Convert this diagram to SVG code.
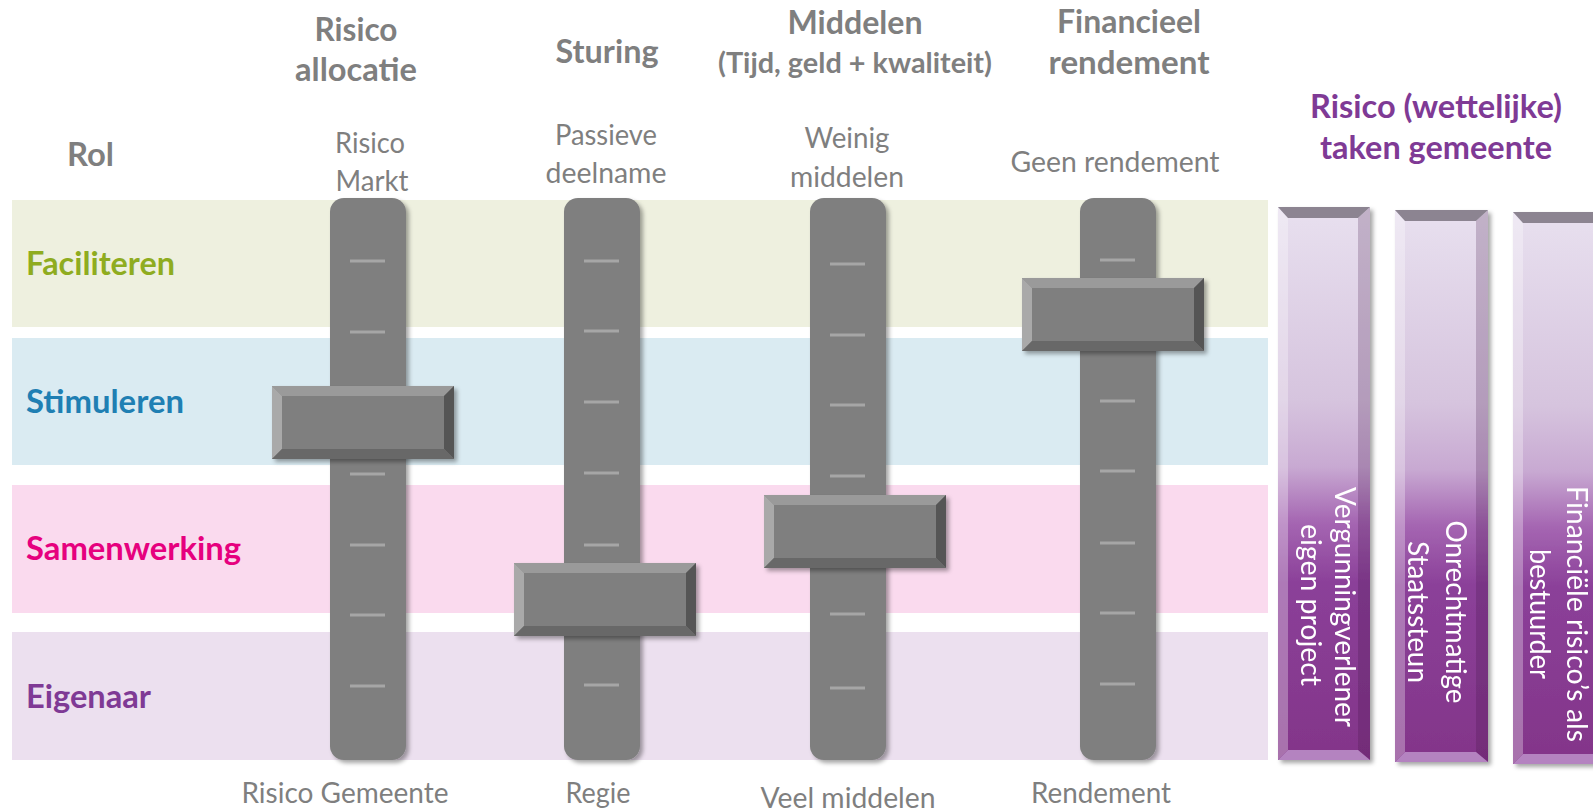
<svg xmlns="http://www.w3.org/2000/svg" xmlns:xlink="http://www.w3.org/1999/xlink" width="1593" height="811" viewBox="0 0 1593 811">
<style>
text{font-family:Lato,"Liberation Sans",sans-serif}
.hd{font-weight:700;font-size:33px;fill:#7f7f7f;text-anchor:middle}
.hs{font-weight:700;font-size:28px;fill:#7f7f7f;text-anchor:middle}
.pu{font-weight:700;font-size:33px;fill:#7f3a95;text-anchor:middle}
.rl{font-weight:700;font-size:33px}
.sb{font-size:28px;fill:#7f7f7f;text-anchor:middle}
.bt{font-size:28px;fill:#ffffff;text-anchor:middle}
.tick{fill:#a6a6a6}
.track{fill:#7f7f7f}
</style>
<defs>
<filter id="sh" x="-20%" y="-20%" width="140%" height="140%">
<feDropShadow dx="3" dy="3" stdDeviation="2" flood-color="#000" flood-opacity="0.35"/>
</filter>
<linearGradient id="pg" x1="0" y1="0" x2="0" y2="1">
<stop offset="0" stop-color="#e8e0ef"/>
<stop offset="0.35" stop-color="#d6c4de"/>
<stop offset="0.47" stop-color="#c8a9d2"/>
<stop offset="0.57" stop-color="#a566b2"/>
<stop offset="0.68" stop-color="#8b4099"/>
<stop offset="1" stop-color="#833589"/>
</linearGradient>
<rect id="trk" class="track" x="0" y="0" width="76" height="562" rx="14" ry="14"/>
<rect id="tk" class="tick" x="0" y="-1.5" width="35" height="3"/>
<g id="knob">
<rect x="0" y="0" width="182" height="73" fill="#7f7f7f"/>
<polygon points="0,0 182,0 172,10 10,10" fill="#9a9a9a"/>
<polygon points="0,0 10,10 10,63 0,73" fill="#a9a9a9"/>
<polygon points="182,0 182,73 172,63 172,10" fill="#555555"/>
<polygon points="0,73 10,63 172,63 182,73" fill="#676767"/>
</g>
</defs>

<rect width="1593" height="811" fill="#ffffff"/>

<g id="band-faciliteren">
<rect x="12" y="200" width="1256" height="127" fill="#eef0df"/>
<text class="rl" x="26" y="275" fill="#8fac1f" textLength="149" lengthAdjust="spacingAndGlyphs">Faciliteren</text>
</g>
<g id="band-stimuleren">
<rect x="12" y="338" width="1256" height="127" fill="#daebf2"/>
<text class="rl" x="26" y="413" fill="#1f7fb3" textLength="158" lengthAdjust="spacingAndGlyphs">Stimuleren</text>
</g>
<g id="band-samenwerking">
<rect x="12" y="485" width="1256" height="128" fill="#fadaee"/>
<text class="rl" x="26" y="560" fill="#e6007e" textLength="215" lengthAdjust="spacingAndGlyphs">Samenwerking</text>
</g>
<g id="band-eigenaar">
<rect x="12" y="632" width="1256" height="128" fill="#ece0ef"/>
<text class="rl" x="26" y="708" fill="#7f3a95" textLength="125" lengthAdjust="spacingAndGlyphs">Eigenaar</text>
</g>

<g id="label-rol">
<text class="rl" x="67" y="166" fill="#7f7f7f" textLength="47" lengthAdjust="spacingAndGlyphs">Rol</text>
</g>

<g id="slider-risico">
<text class="hd" x="356" y="41" textLength="83" lengthAdjust="spacingAndGlyphs">Risico</text>
<text class="hd" x="356" y="81" textLength="122" lengthAdjust="spacingAndGlyphs">allocatie</text>
<text class="sb" x="370" y="153" textLength="70" lengthAdjust="spacingAndGlyphs">Risico</text>
<text class="sb" x="372" y="191" textLength="73" lengthAdjust="spacingAndGlyphs">Markt</text>
<use xlink:href="#trk" x="330" y="198" filter="url(#sh)"/>
<use xlink:href="#tk" x="350" y="261"/><use xlink:href="#tk" x="350" y="332"/><use xlink:href="#tk" x="350" y="403"/><use xlink:href="#tk" x="350" y="474"/><use xlink:href="#tk" x="350" y="545"/><use xlink:href="#tk" x="350" y="615"/><use xlink:href="#tk" x="350" y="686"/>
<use xlink:href="#knob" x="272" y="386" filter="url(#sh)"/>
<text class="sb" x="345" y="803" textLength="207" lengthAdjust="spacingAndGlyphs">Risico Gemeente</text>
</g>

<g id="slider-sturing">
<text class="hd" x="607" y="63" textLength="103" lengthAdjust="spacingAndGlyphs">Sturing</text>
<text class="sb" x="606" y="145" textLength="102" lengthAdjust="spacingAndGlyphs">Passieve</text>
<text class="sb" x="606" y="183" textLength="121" lengthAdjust="spacingAndGlyphs">deelname</text>
<use xlink:href="#trk" x="564" y="198" filter="url(#sh)"/>
<use xlink:href="#tk" x="584" y="261"/><use xlink:href="#tk" x="584" y="331"/><use xlink:href="#tk" x="584" y="402"/><use xlink:href="#tk" x="584" y="473"/><use xlink:href="#tk" x="584" y="545"/><use xlink:href="#tk" x="584" y="615"/><use xlink:href="#tk" x="584" y="685"/>
<use xlink:href="#knob" x="514" y="563" filter="url(#sh)"/>
<text class="sb" x="598" y="803" textLength="65" lengthAdjust="spacingAndGlyphs">Regie</text>
</g>

<g id="slider-middelen">
<text class="hd" x="855" y="34" textLength="135" lengthAdjust="spacingAndGlyphs">Middelen</text>
<text class="hs" x="855" y="73" textLength="274" lengthAdjust="spacingAndGlyphs">(Tijd, geld + kwaliteit)</text>
<text class="sb" x="847" y="148" textLength="85" lengthAdjust="spacingAndGlyphs">Weinig</text>
<text class="sb" x="847" y="187" textLength="114" lengthAdjust="spacingAndGlyphs">middelen</text>
<use xlink:href="#trk" x="810" y="198" filter="url(#sh)"/>
<use xlink:href="#tk" x="830" y="264"/><use xlink:href="#tk" x="830" y="335"/><use xlink:href="#tk" x="830" y="405"/><use xlink:href="#tk" x="830" y="476"/><use xlink:href="#tk" x="830" y="547"/><use xlink:href="#tk" x="830" y="614"/><use xlink:href="#tk" x="830" y="688"/>
<use xlink:href="#knob" x="764" y="495" filter="url(#sh)"/>
<text class="sb" x="848" y="808" textLength="175" lengthAdjust="spacingAndGlyphs">Veel middelen</text>
</g>

<g id="slider-rendement">
<text class="hd" x="1129" y="33" textLength="144" lengthAdjust="spacingAndGlyphs">Financieel</text>
<text class="hd" x="1129" y="74" textLength="161" lengthAdjust="spacingAndGlyphs">rendement</text>
<text class="sb" x="1115" y="172" textLength="209" lengthAdjust="spacingAndGlyphs">Geen rendement</text>
<use xlink:href="#trk" x="1080" y="198" filter="url(#sh)"/>
<use xlink:href="#tk" x="1100" y="260"/><use xlink:href="#tk" x="1100" y="331"/><use xlink:href="#tk" x="1100" y="401"/><use xlink:href="#tk" x="1100" y="471"/><use xlink:href="#tk" x="1100" y="543"/><use xlink:href="#tk" x="1100" y="613"/><use xlink:href="#tk" x="1100" y="684"/>
<use xlink:href="#knob" x="1022" y="278" filter="url(#sh)"/>
<text class="sb" x="1101" y="803" textLength="140" lengthAdjust="spacingAndGlyphs">Rendement</text>
</g>

<g id="title-risico-taken">
<text class="pu" x="1436" y="118" textLength="252" lengthAdjust="spacingAndGlyphs">Risico (wettelijke)</text>
<text class="pu" x="1436" y="159" textLength="232" lengthAdjust="spacingAndGlyphs">taken gemeente</text>
</g>

<g id="bar-vergunning" filter="url(#sh)">
<rect x="1278" y="207" width="92" height="553" fill="url(#pg)"/>
<polygon points="1278,207 1288,218 1288,750 1278,760" fill="#ffffff" opacity="0.3"/>
<polygon points="1370,207 1358,218 1358,750 1370,760" fill="#3a0d40" opacity="0.22"/>
<polygon points="1278,207 1370,207 1358,218 1288,218" fill="#8c8491"/>
<polygon points="1278,760 1288,750 1358,750 1370,760" fill="#b483c0"/>
<text class="bt" transform="translate(1335,607) rotate(90)" textLength="240" lengthAdjust="spacingAndGlyphs">Vergunningverlener</text>
<text class="bt" transform="translate(1301,605) rotate(90)" textLength="162" lengthAdjust="spacingAndGlyphs">eigen project</text>
</g>

<g id="bar-staatssteun" filter="url(#sh)">
<rect x="1395" y="210" width="93" height="552" fill="url(#pg)"/>
<polygon points="1395,210 1405,221 1405,752 1395,762" fill="#ffffff" opacity="0.3"/>
<polygon points="1488,210 1476,221 1476,752 1488,762" fill="#3a0d40" opacity="0.22"/>
<polygon points="1395,210 1488,210 1476,221 1405,221" fill="#8c8491"/>
<polygon points="1395,762 1405,752 1476,752 1488,762" fill="#b483c0"/>
<text class="bt" transform="translate(1446,612) rotate(90)" textLength="183" lengthAdjust="spacingAndGlyphs">Onrechtmatige</text>
<text class="bt" transform="translate(1408,612) rotate(90)" textLength="142" lengthAdjust="spacingAndGlyphs">Staatssteun</text>
</g>

<g id="bar-financieel" filter="url(#sh)">
<rect x="1513" y="212" width="100" height="552" fill="url(#pg)"/>
<polygon points="1513,212 1523,223 1523,754 1513,764" fill="#ffffff" opacity="0.3"/>
<polygon points="1513,212 1613,212 1603,223 1523,223" fill="#8c8491"/>
<polygon points="1513,764 1523,754 1603,754 1613,764" fill="#b483c0"/>
<text class="bt" transform="translate(1567,614) rotate(90)" textLength="256" lengthAdjust="spacingAndGlyphs">Financiële risico’s als</text>
<text class="bt" transform="translate(1530,614) rotate(90)" textLength="130" lengthAdjust="spacingAndGlyphs">bestuurder</text>
</g>
</svg>
